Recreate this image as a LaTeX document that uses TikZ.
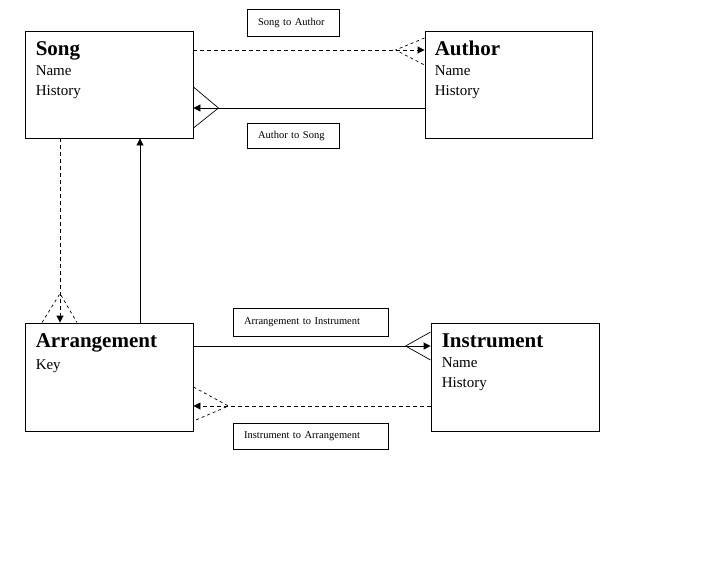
\documentclass[tikz,border=0pt]{standalone}
\usepackage{fontspec}
\setmainfont{Liberation Serif}
\usetikzlibrary{arrows.meta,positioning,calc}

\begin{document}
\begin{tikzpicture}[x=1pt, y=-1pt,
  entity/.style={draw, line width=0.9pt, minimum width=168pt, minimum height=107pt, inner sep=0pt},
  etitle/.style={font=\fontsize{21}{23}\selectfont\bfseries, inner sep=0pt, anchor=base west},
  eattr/.style={font=\fontsize{15}{20}\selectfont, align=left, inner sep=0pt, anchor=north west},
  tag/.style={draw, line width=0.9pt, inner ysep=0pt, inner xsep=11pt, align=left,
              font=\fontsize{10.5}{12}\selectfont},
  rel/.style={line width=0.9pt, -{Triangle[length=7pt,width=7pt]}},
  opt/.style={rel, dash pattern=on 4pt off 3pt},
  foot/.style={line width=0.7pt},
  optfoot/.style={foot, dash pattern=on 3pt off 3pt}
]
\useasboundingbox (0,0) rectangle (703,563);

% Entities
\node[entity] (song) at (109,84.5) {};
\node[entity, minimum width=167pt] (author) at (508.5,84.5) {};
\node[entity, minimum height=108pt] (arrangement) at (109,377) {};
\node[entity, minimum height=108pt] (instrument) at (515,377) {};

\node[etitle] (songname) at ($(song.north west)+(11,25)$) {Song};
\node[eattr] (songattr) at ($(song.north west)+(11,35)$) {Name\\History};
\node[etitle] (authorname) at ($(author.north west)+(10,25)$) {Author};
\node[eattr] (authorattr) at ($(author.north west)+(10,35)$) {Name\\History};
\node[etitle] (arrname) at ($(arrangement.north west)+(11,25)$) {Arrangement};
\node[eattr] (arrattr) at ($(arrangement.north west)+(11,37)$) {Key};
\node[etitle] (instrname) at ($(instrument.north west)+(11,25)$) {Instrument};
\node[eattr] (instrattr) at ($(instrument.north west)+(11,35)$) {Name\\History};

% Relationship labels
\node[tag, text width=70pt, minimum height=27pt] (sa) at (293,22.5) {Song to Author};
\node[tag, text width=70pt, minimum height=25pt] (as) at (293,135.5) {Author to Song};
\node[tag, text width=133pt, minimum height=28pt] (ai) at (310.5,322) {Arrangement to Instrument};
\node[tag, text width=133pt, minimum height=26pt] (ia) at (310.5,436) {Instrument to Arrangement};

% Rows and columns of the connectors
\coordinate (row1) at (0,50);
\coordinate (row2) at (0,108);
\coordinate (row3) at (0,346);
\coordinate (row4) at (0,406);
\coordinate (col1) at (60,0);
\coordinate (col2) at (140,0);

% Song - Author
\draw[opt] (row1 -| song.east) -- (row1 -| author.west);
\draw[optfoot] ($(row1 -| author.west)+(0,-12)$) -- ($(row1 -| author.west)+(-29,0)$)
  -- ($(row1 -| author.west)+(0,15)$);
\draw[rel] (row2 -| author.west) -- (row2 -| song.east);
\draw[foot] ($(row2 -| song.east)+(0,-21)$) -- ($(row2 -| song.east)+(25,0)$)
  -- ($(row2 -| song.east)+(0,20)$);

% Song - Arrangement
\draw[opt] (col1 |- song.south) -- (col1 |- arrangement.north);
\draw[optfoot] ($(col1 |- arrangement.north)+(-18,0)$) -- ($(col1 |- arrangement.north)+(0,-29)$)
  -- ($(col1 |- arrangement.north)+(17,0)$);
\draw[rel] (col2 |- arrangement.north) -- (col2 |- song.south);

% Arrangement - Instrument
\draw[rel] (row3 -| arrangement.east) -- (row3 -| instrument.west);
\draw[foot] ($(row3 -| instrument.west)+(0,-14)$) -- ($(row3 -| instrument.west)+(-25,0)$)
  -- ($(row3 -| instrument.west)+(0,14)$);
\draw[opt] (row4 -| instrument.west) -- (row4 -| arrangement.east);
\draw[optfoot] ($(row4 -| arrangement.east)+(0,-19)$) -- ($(row4 -| arrangement.east)+(35,0)$)
  -- ($(row4 -| arrangement.east)+(0,15)$);

\end{tikzpicture}
\end{document}
